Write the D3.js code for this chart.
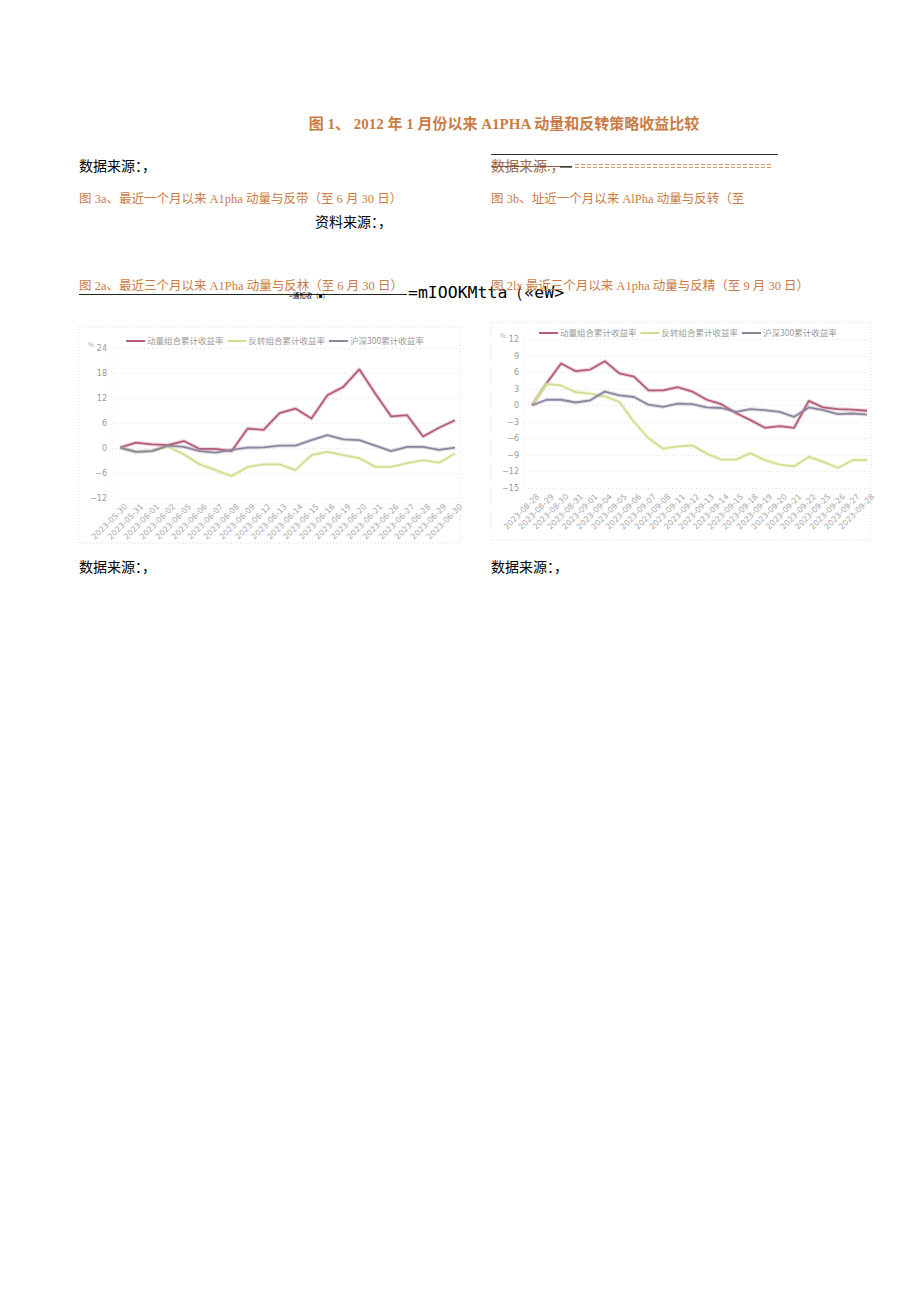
<!DOCTYPE html>
<html><head><meta charset="utf-8">
<script src="https://cdn.jsdelivr.net/npm/d3@7"></script>
<style>
body{margin:0;background:#fff;}
svg{display:block;}
</style></head>
<body>
<svg id="page" width="920" height="1301"></svg>
<script>
// ---- data ----
const seriesNames = ["动量组合累计收益率", "反转组合累计收益率", "沪深300累计收益率"];

const datesA = ["2023-05-30","2023-05-31","2023-06-01","2023-06-02","2023-06-05","2023-06-06","2023-06-07","2023-06-08","2023-06-09","2023-06-12","2023-06-13","2023-06-14","2023-06-15","2023-06-16","2023-06-19","2023-06-20","2023-06-21","2023-06-26","2023-06-27","2023-06-28","2023-06-29","2023-06-30"];
const momentumA = [0, 1.2, 0.8, 0.6, 1.6, -0.3, -0.3, -0.8, 4.6, 4.3, 8.3, 9.4, 7.0, 12.6, 14.6, 18.8, 13.0, 7.5, 7.8, 2.7, 4.8, 6.6];
const reversalA = [0, -1.0, -0.8, 0.3, -1.6, -4.0, -5.4, -6.8, -4.6, -4.0, -4.0, -5.4, -1.8, -1.0, -1.8, -2.5, -4.6, -4.6, -3.7, -3.0, -3.6, -1.4];
const hs300A    = [0, -1.0, -0.8, 0.5, 0.2, -0.8, -1.2, -0.5, 0.0, 0.1, 0.5, 0.5, 1.8, 3.0, 2.0, 1.8, 0.5, -0.8, 0.2, 0.2, -0.5, 0.0];
const ticksA = [24, 18, 12, 6, 0, -6, -12];

const datesB = ["2023-08-28","2023-08-29","2023-08-30","2023-08-31","2023-09-01","2023-09-04","2023-09-05","2023-09-06","2023-09-07","2023-09-08","2023-09-11","2023-09-12","2023-09-13","2023-09-14","2023-09-15","2023-09-18","2023-09-19","2023-09-20","2023-09-21","2023-09-22","2023-09-25","2023-09-26","2023-09-27","2023-09-28"];
const momentumB = [0, 4.0, 7.6, 6.2, 6.5, 8.0, 5.8, 5.2, 2.7, 2.7, 3.3, 2.5, 1.0, 0.2, -1.4, -2.7, -4.1, -3.8, -4.1, 0.8, -0.4, -0.7, -0.8, -1.0];
const reversalB = [0, 3.9, 3.6, 2.4, 2.1, 1.6, 0.6, -3.0, -6.0, -7.9, -7.5, -7.3, -8.8, -9.9, -9.9, -8.7, -10.0, -10.8, -11.1, -9.4, -10.3, -11.4, -10.0, -10.0];
const hs300B    = [0, 1.0, 1.0, 0.5, 0.9, 2.5, 1.8, 1.5, 0.1, -0.3, 0.3, 0.2, -0.4, -0.5, -1.2, -0.7, -0.9, -1.2, -2.1, -0.4, -0.9, -1.6, -1.5, -1.7];
const ticksB = [12, 9, 6, 3, 0, -3, -6, -9, -12, -15];

// ---- styles ----
const ORANGE = "#c97c45";
const CJK = "'Liberation Serif','Noto Sans CJK SC',serif";
const colors = ["#b45c78", "#cfe08f", "#8e84a0"];

const svg = d3.select("#page");

function txt(x, y, s, opts = {}) {
  return svg.append("text").attr("x", x).attr("y", y)
    .attr("font-family", opts.family || CJK)
    .attr("font-size", opts.size || 13)
    .attr("font-weight", opts.weight || "normal")
    .attr("fill", opts.fill || "#000")
    .attr("text-anchor", opts.anchor || "start")
    .text(s);
}

// Title
txt(504, 129, "图 1、 2012 年 1 月份以来 A1PHA 动量和反转策略收益比较", {size: 15, weight: "bold", fill: ORANGE, anchor: "middle"});

// Left source
txt(79, 171, "数据来源：，", {size: 14});
// Right source with lines
svg.append("line").attr("x1", 491).attr("x2", 778).attr("y1", 154.5).attr("y2", 154.5).attr("stroke", "#333").attr("stroke-width", 1);
txt(491, 171, "数据来源.，", {size: 14, fill: "#9a6a4a"});
svg.append("line").attr("x1", 491).attr("x2", 572).attr("y1", 166.5).attr("y2", 166.5).attr("stroke", "#8a5a3a").attr("stroke-width", 1);
svg.append("line").attr("x1", 560).attr("x2", 572).attr("y1", 167).attr("y2", 167).attr("stroke", "#222").attr("stroke-width", 1.2);
svg.append("line").attr("x1", 575).attr("x2", 772).attr("y1", 164.5).attr("y2", 164.5).attr("stroke", ORANGE).attr("stroke-width", 0.8).attr("stroke-dasharray", "4,2");
svg.append("line").attr("x1", 575).attr("x2", 772).attr("y1", 167.5).attr("y2", 167.5).attr("stroke", ORANGE).attr("stroke-width", 0.8).attr("stroke-dasharray", "4,2");

// 3a / 3b captions
txt(79, 203, "图 3a、最近一个月以来 A1pha 动量与反带（至 6 月 30 日）", {size: 12.5, fill: ORANGE});
txt(491, 203, "图 3b、址近一个月以来 AlPha 动量与反转（至", {size: 12.5, fill: ORANGE});
txt(315, 227, "资料来源：，", {size: 14});

// 2a / 2b captions
txt(79, 290, "图 2a、最近三个月以来 A1Pha 动量与反林（至 6 月 30 日）", {size: 12.5, fill: ORANGE});
svg.append("line").attr("x1", 79).attr("x2", 407).attr("y1", 294.5).attr("y2", 294.5).attr("stroke", "#222").attr("stroke-width", 1);
txt(289, 298, "=通知收（■）", {size: 6.5});
txt(408, 298, "=mIOOKMtta（«eW>", {size: 16.5, family: "'DejaVu Sans Mono','Liberation Mono',monospace"});
txt(491, 290, "图 2lx 最近三个月以来 A1pha 动量与反精（至 9 月 30 日）", {size: 12.5, fill: ORANGE});

// sources under charts
txt(79, 572, "数据来源：，", {size: 14});
txt(491, 572, "数据来源：，", {size: 14});

// ---- charts ----
function chart(cfg) {
  const g = svg.append("g");
  // dotted frame
  g.append("rect").attr("x", cfg.box[0]).attr("y", cfg.box[1])
    .attr("width", cfg.box[2] - cfg.box[0]).attr("height", cfg.box[3] - cfg.box[1])
    .attr("fill", "none").attr("stroke", "#ddd").attr("stroke-width", 1).attr("stroke-dasharray", "1,2");

  const x = d3.scalePoint().domain(cfg.dates).range([cfg.x0, cfg.x1]);
  const y = d3.scaleLinear().domain([cfg.ticks[cfg.ticks.length - 1], cfg.ticks[0]]).range([cfg.yBottom, cfg.yTop]);

  // gridlines
  g.append("g").selectAll("line").data(cfg.ticks).join("line")
    .attr("x1", cfg.x0 - 8).attr("x2", cfg.x1 + 4)
    .attr("y1", d => Math.round(y(d)) + 0.5).attr("y2", d => Math.round(y(d)) + 0.5)
    .attr("stroke", "#e2e2e2").attr("stroke-width", 1).attr("stroke-dasharray", "1,3");
  // vertical axis line (dotted)
  g.append("line").attr("x1", cfg.x0 - 8).attr("x2", cfg.x0 - 8).attr("y1", cfg.yTop).attr("y2", cfg.yBottom)
    .attr("stroke", "#e6e6e6").attr("stroke-dasharray", "1,3");

  // y axis labels via d3 axis
  const yAxis = d3.axisLeft(y).tickValues(cfg.ticks).tickSize(0).tickPadding(0);
  const ya = g.append("g").attr("transform", `translate(${cfg.x0 - 13},0)`).call(yAxis);
  ya.select(".domain").remove();
  ya.selectAll("text").attr("font-size", 8).attr("fill", "#9a9a9a").attr("font-family", "'DejaVu Sans',sans-serif");

  // unit
  g.append("text").attr("x", cfg.x0 - 32).attr("y", cfg.yTop - 1).attr("font-size", 6.5).attr("fill", "#aaa")
    .attr("font-family", "'Noto Sans CJK SC',sans-serif").text("%");

  // x axis labels (rotated) via d3 axis
  const xAxis = d3.axisBottom(x).tickSize(0).tickPadding(0);
  const xa = g.append("g").attr("transform", `translate(0,${cfg.yBottom + 6})`).call(xAxis);
  xa.select(".domain").remove();
  xa.selectAll("text").attr("font-size", 8).attr("fill", "#a8a8a8")
    .attr("font-family", "'DejaVu Sans',sans-serif")
    .attr("text-anchor", "end").attr("dy", "0.6em")
    .attr("transform", "translate(4,0) rotate(-45)");

  // lines
  const line = d3.line().x((d, i) => x(cfg.dates[i])).y(d => y(d));
  [cfg.s0, cfg.s1, cfg.s2].forEach((s, k) => {
    g.append("path").datum(s).attr("d", line).attr("fill", "none")
      .attr("stroke", colors[k]).attr("stroke-width", 4).attr("stroke-opacity", 0.25).attr("stroke-linejoin", "round");
    g.append("path").datum(s).attr("d", line).attr("fill", "none")
      .attr("stroke", colors[k]).attr("stroke-width", 1.8).attr("stroke-linejoin", "round");
  });

  // legend
  let lx = cfg.legend[0];
  const ly = cfg.legend[1];
  seriesNames.forEach((n, k) => {
    g.append("line").attr("x1", lx).attr("x2", lx + 19).attr("y1", ly).attr("y2", ly)
      .attr("stroke", colors[k]).attr("stroke-width", 2);
    const t = g.append("text").attr("x", lx + 21).attr("y", ly + 3).attr("font-size", 8.5).attr("fill", "#999")
      .attr("font-family", "'Noto Sans CJK SC',sans-serif").text(n);
    lx += 21 + t.node().getComputedTextLength() + 4;
  });
}

chart({box: [79, 327, 460, 543], dates: datesA, x0: 120, x1: 455, yTop: 347.7, yBottom: 497.7,
  ticks: ticksA, s0: momentumA, s1: reversalA, s2: hs300A, legend: [126, 341]});
chart({box: [491, 322, 871, 540], dates: datesB, x0: 532, x1: 867, yTop: 339.3, yBottom: 487.7,
  ticks: ticksB, s0: momentumB, s1: reversalB, s2: hs300B, legend: [539, 333]});
</script>
</body></html>
